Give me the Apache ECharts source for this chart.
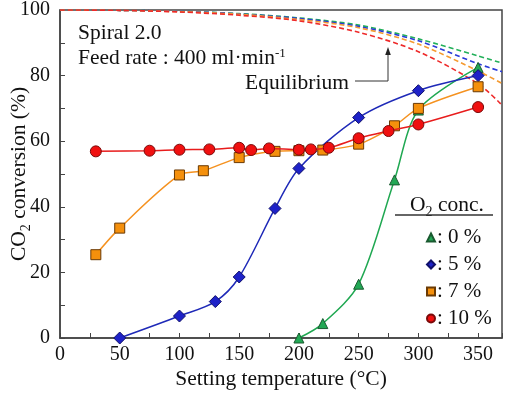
<!DOCTYPE html>
<html>
<head>
<meta charset="utf-8">
<script src="https://cdn.jsdelivr.net/npm/echarts@6/dist/echarts.min.js"></script>
<style>html,body{margin:0;padding:0;background:#fff}#c{width:505px;height:395px}</style>
</head>
<body>
<div id="c"></div>
<script>
// ---- data ----
const seriesNames = ['0 %', '5 %', '7 %', '10 %'];
const o2_0_temp = [200, 220, 250, 280, 300, 350];
const o2_0_conv = [0, 4.4, 16.4, 48.2, 69.5, 82.5];
const o2_5_temp = [50, 100, 130, 150, 180, 200, 250, 300, 350];
const o2_5_conv = [0, 6.7, 11.1, 18.6, 39.5, 51.7, 67.2, 75.4, 80.0];
const o2_7_temp = [30, 50, 100, 120, 150, 180, 200, 220, 250, 280, 300, 350];
const o2_7_conv = [25.4, 33.5, 49.7, 51.0, 55.0, 56.9, 57.1, 57.3, 59.1, 64.7, 70.0, 76.6];
const o2_10_temp = [30, 75, 100, 125, 150, 160, 175, 200, 210, 225, 250, 275, 300, 350];
const o2_10_conv = [56.9, 57.1, 57.4, 57.5, 58.0, 57.3, 57.8, 57.4, 57.5, 58.0, 60.9, 63.1, 65.1, 70.4];
const eqTemp = [0, 50, 100, 150, 200, 250, 300, 350, 370];
const eq_0 = [100, 99.9, 99.6, 98.9, 97.6, 95.4, 91.2, 86.0, 83.8];
const eq_5 = [100, 99.9, 99.6, 98.8, 97.4, 95.0, 90.6, 83.6, 81.2];
const eq_7 = [100, 99.9, 99.5, 98.7, 97.1, 94.6, 89.6, 81.4, 77.6];
const eq_10 = [100, 99.9, 99.4, 98.4, 96.7, 93.2, 87.3, 77.5, 71.0];
const xTicks = [0, 50, 100, 150, 200, 250, 300, 350];
const yTicks = [0, 20, 40, 60, 80, 100];

// ---- styles ----
const FONT = 'Liberation Serif, "Times New Roman", serif';
const lineColors = ['#20a852', '#1f2ab8', '#f59220', '#e81c1c'];
const fillColors = ['#22a855', '#1e22c8', '#f5900c', '#f01010'];
const borderColors = ['#1a5a30', '#10106a', '#6a3a05', '#7a0a0a'];
const symbols = ['triangle', 'diamond', 'rect', 'circle'];
const symSizes = [10, 12, 10, 11];
const eqColors = ['#22b05a', '#2a3ad8', '#f59a30', '#ee2a2a'];
const BIG = 21.5;

const pair = (xs, ys) => xs.map((x, i) => [x, ys[i]]);
const measData = [pair(o2_0_temp, o2_0_conv), pair(o2_5_temp, o2_5_conv), pair(o2_7_temp, o2_7_conv), pair(o2_10_temp, o2_10_conv)];
const eqData = [pair(eqTemp, eq_0), pair(eqTemp, eq_5), pair(eqTemp, eq_7), pair(eqTemp, eq_10)];

const series = [];
eqData.forEach((d, i) => {
  series.push({
    type: 'line', name: 'eq' + i, data: d, smooth: 0.3, symbol: 'none', silent: true,
    lineStyle: { color: eqColors[i], width: 1.6, type: [5, 3] }, z: 2
  });
});
measData.forEach((d, i) => {
  series.push({
    type: 'line', name: seriesNames[i], data: d, smooth: 0.3,
    symbol: symbols[i], symbolSize: symSizes[i],
    lineStyle: { color: lineColors[i], width: 1.5 },
    itemStyle: { color: fillColors[i], borderColor: borderColors[i], borderWidth: 1 },
    z: 3 + i
  });
});

const chart = echarts.init(document.getElementById('c'), null, { renderer: 'canvas' });
chart.setOption({
  animation: false,
  backgroundColor: '#fff',
  textStyle: { fontFamily: FONT },
  grid: { left: 60, right: 3, top: 10, bottom: 57, show: true, borderColor: '#444', borderWidth: 1.5,
    containLabel: false, outerBoundsMode: 'none' },
  xAxis: {
    type: 'value', min: 0, max: 370, interval: 25,
    name: 'Setting temperature (°C)', nameLocation: 'middle', nameGap: 30, nameMoveOverlap: false,
    nameTextStyle: { fontFamily: FONT, fontSize: BIG, color: '#111' },
    axisLine: { lineStyle: { color: '#444', width: 1.5 } },
    axisTick: { inside: true, length: 5, lineStyle: { color: '#444', width: 1 } },
    axisLabel: { fontFamily: FONT, fontSize: 20, color: '#111', margin: 7,
      formatter: v => xTicks.indexOf(v) >= 0 ? String(v) : '' },
    splitLine: { show: false }
  },
  yAxis: {
    type: 'value', min: 0, max: 100, interval: 10,
    name: '{a|CO}{s|2}{a| conversion (%)}', nameLocation: 'middle', nameGap: 27, nameRotate: 90,
    nameMoveOverlap: false,
    nameTextStyle: { fontFamily: FONT, fontSize: BIG, color: '#111',
      rich: {
        a: { fontFamily: FONT, fontSize: BIG, color: '#111', padding: [0, 0, 3, 0], verticalAlign: 'top' },
        s: { fontFamily: FONT, fontSize: 14, color: '#111', lineHeight: 14, verticalAlign: 'bottom' }
      } },
    axisLine: { lineStyle: { color: '#444', width: 1.5 } },
    axisTick: { inside: true, length: 5, lineStyle: { color: '#444', width: 1 } },
    axisLabel: { fontFamily: FONT, fontSize: 20, color: '#111', margin: 10,
      formatter: v => yTicks.indexOf(v) >= 0 ? String(v) : '' },
    splitLine: { show: false }
  },
  legend: {
    orient: 'vertical', left: 421, top: 222, itemWidth: 8, itemHeight: 8, itemGap: 6,
    selectedMode: false,
    data: seriesNames.map((n, i) => ({ name: n, icon: symbols[i] })),
    formatter: ': {name}',
    textStyle: { fontFamily: FONT, fontSize: 21, color: '#111', padding: [0, 0, 0, -3] }
  },
  graphic: [
    { type: 'text', left: 78, top: 22, z: 20,
      style: { text: 'Spiral 2.0', font: BIG + 'px ' + FONT, fill: '#111' } },
    { type: 'text', left: 78, top: 47, z: 20,
      style: { text: '{a|Feed rate : 400 ml·min}{p|-1}', fill: '#111',
        rich: { a: { fontFamily: FONT, fontSize: BIG, fill: '#111', verticalAlign: 'bottom' },
                p: { fontFamily: FONT, fontSize: 13, lineHeight: 13, fill: '#111', verticalAlign: 'top' } } } },
    { type: 'text', left: 245, top: 72, z: 20,
      style: { text: 'Equilibrium', font: BIG + 'px ' + FONT, fill: '#111' } },
    { type: 'polyline', z: 20, shape: { points: [[355, 81], [388, 81], [388, 54]] },
      style: { stroke: '#333', lineWidth: 1, fill: null } },
    { type: 'polygon', z: 20, shape: { points: [[388, 47], [385.2, 55], [390.8, 55]] },
      style: { fill: '#222' } },
    { type: 'text', left: 410, top: 194, z: 20,
      style: { text: '{a|O}{s|2}{a| conc.}', fill: '#111',
        rich: { a: { fontFamily: FONT, fontSize: BIG, fill: '#111', padding: [0, 0, 3, 0], verticalAlign: 'top' },
                s: { fontFamily: FONT, fontSize: 14, lineHeight: 14, fill: '#111', verticalAlign: 'bottom' } } } },
    { type: 'line', z: 20, shape: { x1: 395, y1: 215, x2: 493, y2: 215 },
      style: { stroke: '#333', lineWidth: 1.5 } }
  ],
  series: series
});
</script>
</body>
</html>
